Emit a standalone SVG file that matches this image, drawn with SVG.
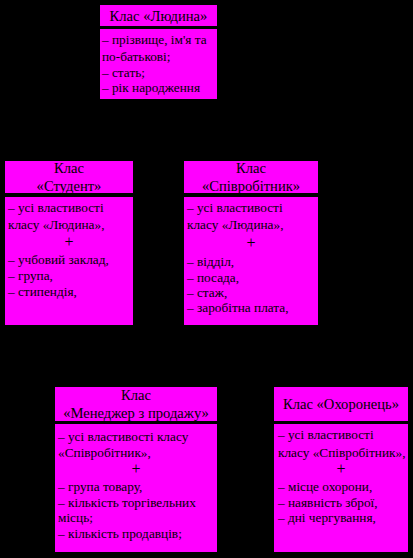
<svg xmlns="http://www.w3.org/2000/svg" width="413" height="558" viewBox="0 0 413 558">
<style>
.box{fill:#ff00ff}
text{font-family:"Liberation Serif","Times New Roman",serif;font-size:13.3px;fill:#000}
.t{font-size:14.6px;text-anchor:middle}
.c{text-anchor:middle;font-size:16px}
.conn{stroke:#000;stroke-width:1;fill:none}
</style>
<rect x="0" y="0" width="413" height="558" fill="#000"/>
<g id="connectors">
<path class="conn" d="M158 99 L69 161 M158 99 L251 161 M251 325 L136 387 M251 325 L341 387"/>
<circle cx="158" cy="99" r="4" fill="#000"/>
<circle cx="251" cy="325" r="4" fill="#000"/>
</g>
<g id="lyudyna">
<rect class="box" x="100" y="5" width="117" height="21"/>
<rect class="box" x="100" y="29" width="117" height="70"/>
<text class="t" x="158.5" y="20.5">Клас «Людина»</text>
<text x="102" y="44">– прізвище, ім'я та</text>
<text x="102" y="61">по-батькові;</text>
<text x="102" y="77">– стать;</text>
<text x="102" y="92">– рік народження</text>
</g>
<g id="student">
<rect class="box" x="5" y="161" width="128" height="32"/>
<rect class="box" x="5" y="197" width="128" height="128"/>
<text class="t" x="69" y="173">Клас</text>
<text class="t" x="69" y="191">«Студент»</text>
<text x="8" y="212">– усі властивості</text>
<text x="8" y="229">класу «Людина»,</text>
<text class="c" x="69" y="247">+</text>
<text x="8" y="264">– учбовий заклад,</text>
<text x="8" y="280">– група,</text>
<text x="8" y="296">– стипендія,</text>
</g>
<g id="spivrobitnyk">
<rect class="box" x="184" y="161" width="134" height="32"/>
<rect class="box" x="184" y="197" width="134" height="128"/>
<text class="t" x="251" y="173">Клас</text>
<text class="t" x="251" y="191">«Співробітник»</text>
<text x="187" y="212">– усі властивості</text>
<text x="187" y="229">класу «Людина»,</text>
<text class="c" x="251" y="248">+</text>
<text x="187" y="266">– відділ,</text>
<text x="187" y="282">– посада,</text>
<text x="187" y="297">– стаж,</text>
<text x="187" y="312">– заробітна плата,</text>
</g>
<g id="menedzher">
<rect class="box" x="55" y="387" width="162" height="34"/>
<rect class="box" x="55" y="424" width="162" height="128"/>
<text class="t" x="136" y="400">Клас</text>
<text class="t" x="136" y="418">«Менеджер з продажу»</text>
<text x="58" y="441">– усі властивості класу</text>
<text x="58" y="457">«Співробітник»,</text>
<text class="c" x="136" y="474">+</text>
<text x="58" y="491">– група товару,</text>
<text x="58" y="507">– кількість торгівельних</text>
<text x="58" y="522">місць;</text>
<text x="58" y="538">– кількість продавців;</text>
</g>
<g id="okhoronets">
<rect class="box" x="274" y="387" width="134" height="34"/>
<rect class="box" x="274" y="424" width="134" height="128"/>
<text class="t" x="341" y="409">Клас «Охоронець»</text>
<text x="278" y="439">– усі властивості</text>
<text x="278" y="457">класу «Співробітник»,</text>
<text class="c" x="341" y="474">+</text>
<text x="278" y="491">– місце охорони,</text>
<text x="278" y="507">– наявність зброї,</text>
<text x="278" y="522">– дні чергування,</text>
</g>
</svg>
